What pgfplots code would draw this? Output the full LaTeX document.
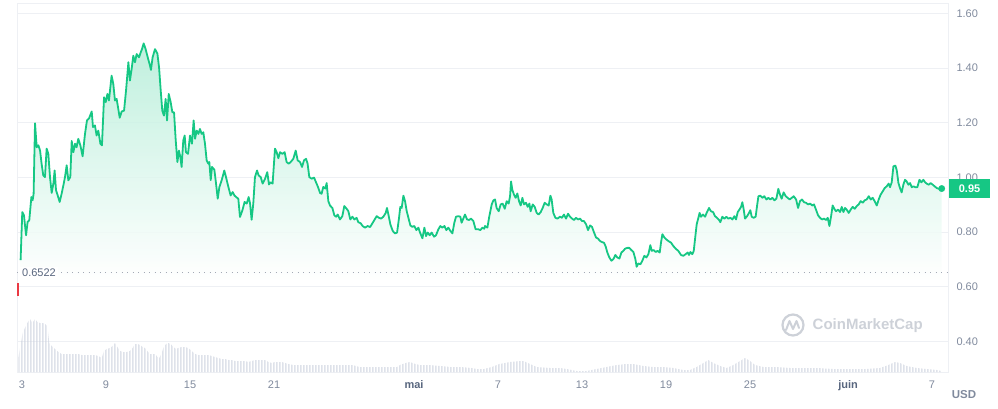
\documentclass[border=0pt]{standalone}
\usepackage{pgfplots}
\pgfplotsset{compat=1.18}
\usepackage{pgfplotstable}
\usetikzlibrary{patterns}
\usepackage{fontspec}
\setmainfont{Liberation Sans}
\definecolor{cmcgreen}{HTML}{16C784}
\definecolor{cmcred}{HTML}{EA3943}
\definecolor{tickgray}{HTML}{808A9D}
\definecolor{darkgray2}{HTML}{58667E}
\definecolor{gridc}{HTML}{EEF0F4}
\definecolor{volc}{HTML}{CDD2DF}
\definecolor{wm}{HTML}{CDD1D8}
\definecolor{dotc}{HTML}{A3A9B5}
\pgfdeclarepatternformonly{vbars}{\pgfpointorigin}{\pgfqpoint{3pt}{1pt}}{\pgfqpoint{3pt}{1pt}}{%
  \pgfpathrectangle{\pgfpointorigin}{\pgfqpoint{2pt}{1pt}}\pgfusepath{fill}}

% price (USD) vs days since 3 April
\pgfplotstableread{
d p
-0.10 0.697
0.02 0.873
0.14 0.861
0.29 0.788
0.40 0.837
0.52 0.843
0.67 0.928
0.76 0.916
0.83 0.940
0.93 1.198
1.05 1.110
1.17 1.117
1.29 1.098
1.40 1.050
1.52 1.007
1.64 1.001
1.76 1.105
1.88 1.086
2.00 1.001
2.12 0.943
2.24 0.977
2.33 1.025
2.43 0.953
2.55 0.934
2.69 0.910
2.83 0.940
2.98 0.977
3.07 1.001
3.19 1.044
3.31 0.989
3.45 1.001
3.55 1.133
3.67 1.092
3.79 1.123
3.90 1.110
4.02 1.141
4.17 1.117
4.33 1.077
4.50 1.159
4.64 1.208
4.79 1.216
4.98 1.241
5.07 1.184
5.21 1.190
5.33 1.153
5.45 1.171
5.60 1.123
5.71 1.117
5.86 1.293
5.98 1.275
6.10 1.305
6.21 1.281
6.40 1.372
6.52 1.342
6.64 1.281
6.76 1.287
6.98 1.218
7.12 1.241
7.29 1.244
7.43 1.317
7.60 1.421
7.71 1.354
7.83 1.396
7.95 1.445
8.07 1.421
8.19 1.451
8.36 1.439
8.48 1.457
8.57 1.469
8.69 1.490
8.83 1.469
8.98 1.439
9.14 1.409
9.21 1.393
9.33 1.439
9.50 1.469
9.67 1.453
9.79 1.402
9.90 1.323
10.02 1.244
10.14 1.226
10.26 1.287
10.36 1.208
10.48 1.305
10.62 1.275
10.74 1.238
10.86 1.238
10.98 1.135
11.10 1.056
11.21 1.098
11.31 1.074
11.40 1.038
11.52 1.135
11.62 1.153
11.71 1.092
11.86 1.086
12.00 1.153
12.14 1.123
12.26 1.208
12.36 1.141
12.48 1.171
12.60 1.159
12.71 1.177
12.83 1.159
12.95 1.165
13.07 1.123
13.19 1.062
13.31 1.050
13.38 1.056
13.48 0.990
13.57 1.038
13.74 1.028
13.86 0.977
13.98 0.922
14.10 0.965
14.26 0.989
14.45 1.025
14.57 1.001
14.74 0.965
14.90 0.934
15.05 0.946
15.17 0.934
15.29 0.928
15.45 0.922
15.57 0.855
15.74 0.879
15.90 0.910
16.05 0.904
16.19 0.928
16.29 0.904
16.40 0.845
16.52 0.904
16.64 1.001
16.79 1.025
16.90 1.007
17.05 1.001
17.19 0.977
17.36 0.995
17.52 1.019
17.64 0.974
17.76 0.982
17.90 0.977
18.07 1.105
18.19 1.092
18.31 1.070
18.43 1.092
18.60 1.086
18.76 1.092
18.90 1.056
19.05 1.050
19.19 1.056
19.38 1.068
19.55 1.098
19.69 1.062
19.86 1.056
20.00 1.038
20.14 1.062
20.29 1.068
20.40 1.050
20.52 1.001
20.69 0.995
20.86 0.999
21.00 0.982
21.14 0.965
21.29 0.943
21.40 0.940
21.52 0.965
21.67 0.959
21.76 0.979
21.88 0.913
22.00 0.897
22.17 0.888
22.31 0.861
22.43 0.856
22.55 0.864
22.71 0.846
22.88 0.858
23.02 0.895
23.19 0.885
23.31 0.876
23.45 0.846
23.60 0.856
23.74 0.846
23.90 0.852
24.02 0.836
24.19 0.832
24.33 0.822
24.50 0.816
24.69 0.822
24.86 0.818
24.98 0.828
25.17 0.844
25.33 0.858
25.50 0.852
25.64 0.849
25.81 0.856
25.98 0.870
26.07 0.888
26.17 0.864
26.31 0.828
26.48 0.804
26.64 0.795
26.79 0.798
26.93 0.852
27.02 0.892
27.12 0.888
27.24 0.933
27.36 0.913
27.48 0.876
27.60 0.852
27.74 0.824
27.88 0.819
28.02 0.822
28.17 0.807
28.31 0.816
28.43 0.798
28.60 0.777
28.74 0.816
28.86 0.785
28.98 0.798
29.12 0.788
29.26 0.798
29.43 0.783
29.57 0.788
29.74 0.810
29.88 0.822
30.02 0.816
30.17 0.822
30.31 0.807
30.45 0.816
30.60 0.804
30.74 0.795
30.88 0.834
31.00 0.856
31.17 0.858
31.31 0.856
31.40 0.834
31.52 0.849
31.64 0.864
31.79 0.846
31.93 0.844
32.07 0.849
32.24 0.840
32.40 0.810
32.60 0.810
32.74 0.807
32.88 0.816
33.02 0.812
33.07 0.822
33.24 0.816
33.38 0.858
33.55 0.901
33.67 0.916
33.79 0.919
33.90 0.888
34.05 0.876
34.19 0.901
34.33 0.904
34.48 0.885
34.62 0.913
34.76 0.904
34.86 0.931
34.93 0.985
35.02 0.955
35.14 0.937
35.26 0.925
35.38 0.941
35.50 0.913
35.62 0.897
35.74 0.925
35.86 0.901
36.00 0.907
36.12 0.892
36.24 0.904
36.33 0.876
36.48 0.901
36.62 0.892
36.76 0.870
36.90 0.864
37.05 0.873
37.19 0.888
37.33 0.907
37.48 0.901
37.62 0.897
37.74 0.933
37.83 0.919
37.95 0.870
38.10 0.852
38.24 0.849
38.43 0.856
38.57 0.852
38.71 0.864
38.86 0.849
39.00 0.867
39.14 0.856
39.29 0.849
39.43 0.844
39.57 0.852
39.71 0.846
39.86 0.849
40.00 0.840
40.14 0.840
40.29 0.828
40.43 0.807
40.57 0.824
40.71 0.819
40.86 0.798
41.00 0.780
41.14 0.776
41.29 0.767
41.43 0.763
41.57 0.761
41.69 0.747
41.81 0.725
41.95 0.707
42.10 0.695
42.24 0.701
42.38 0.716
42.52 0.707
42.67 0.703
42.81 0.725
42.95 0.731
43.07 0.739
43.24 0.742
43.38 0.742
43.52 0.734
43.67 0.727
43.81 0.701
43.90 0.673
44.02 0.685
44.17 0.682
44.31 0.695
44.45 0.713
44.60 0.707
44.74 0.719
44.88 0.752
44.98 0.731
45.12 0.734
45.26 0.727
45.40 0.731
45.55 0.725
45.64 0.761
45.74 0.792
45.88 0.780
46.02 0.773
46.17 0.767
46.36 0.761
46.52 0.749
46.69 0.739
46.88 0.731
47.07 0.716
47.24 0.713
47.40 0.719
47.55 0.725
47.64 0.716
47.74 0.727
47.88 0.719
47.98 0.731
48.07 0.773
48.19 0.828
48.31 0.852
48.40 0.870
48.50 0.856
48.64 0.864
48.79 0.856
48.90 0.870
49.07 0.888
49.21 0.876
49.36 0.873
49.50 0.858
49.64 0.852
49.79 0.844
49.88 0.836
50.02 0.856
50.17 0.849
50.31 0.856
50.45 0.849
50.60 0.852
50.74 0.846
50.88 0.858
51.00 0.846
51.12 0.873
51.24 0.882
51.36 0.892
51.45 0.909
51.55 0.882
51.64 0.849
51.79 0.858
51.93 0.870
52.02 0.880
52.12 0.856
52.26 0.852
52.40 0.856
52.50 0.895
52.60 0.931
52.74 0.933
52.88 0.925
53.02 0.931
53.17 0.919
53.31 0.925
53.45 0.919
53.60 0.925
53.74 0.916
53.88 0.922
54.02 0.958
54.14 0.937
54.26 0.922
54.40 0.945
54.55 0.931
54.69 0.925
54.83 0.919
54.98 0.925
55.12 0.931
55.29 0.919
55.43 0.888
55.57 0.913
55.71 0.919
55.86 0.909
56.00 0.907
56.14 0.901
56.29 0.904
56.43 0.897
56.57 0.901
56.71 0.882
56.86 0.861
57.00 0.852
57.14 0.846
57.29 0.849
57.43 0.844
57.55 0.852
57.67 0.822
57.79 0.858
57.90 0.897
58.02 0.885
58.14 0.876
58.29 0.882
58.43 0.873
58.55 0.892
58.67 0.873
58.79 0.888
58.90 0.882
59.05 0.870
59.19 0.882
59.33 0.892
59.48 0.885
59.62 0.895
59.76 0.901
59.90 0.913
60.05 0.907
60.19 0.916
60.33 0.919
60.48 0.931
60.62 0.919
60.76 0.925
60.90 0.913
61.05 0.897
61.19 0.919
61.33 0.937
61.48 0.949
61.62 0.961
61.76 0.967
61.90 0.977
62.00 0.964
62.12 0.982
62.24 1.040
62.38 1.043
62.48 1.026
62.60 0.979
62.71 0.961
62.83 0.945
62.95 0.973
63.07 0.991
63.19 0.985
63.31 0.973
63.43 0.979
63.55 0.964
63.67 0.967
63.81 0.964
63.95 0.964
64.10 0.991
64.24 0.982
64.38 0.991
64.50 0.982
64.62 0.977
64.76 0.973
64.90 0.979
65.05 0.973
65.19 0.967
65.33 0.961
65.48 0.958
65.69 0.959
}\price

% relative trading volume (bar height)
\pgfplotstableread{
d v
-0.26 14
-0.14 24
0.05 39
0.21 44
0.38 49
0.57 53
0.74 49
0.93 53
1.10 50
1.29 49
1.48 49
1.64 48
1.81 46
1.95 29
2.12 26
2.36 23
2.60 20
2.83 18
3.07 18
3.31 18
3.55 18
3.79 18
4.02 18
4.26 17
4.50 17
4.74 17
4.98 17
5.21 17
5.45 16
5.69 14
5.86 21
6.05 23
6.29 24
6.48 26
6.64 29
6.81 25
7.00 21
7.24 20
7.48 20
7.71 21
7.90 24
8.07 28
8.26 28
8.43 27
8.62 25
8.79 24
8.95 21
9.14 18
9.33 18
9.52 18
9.67 15
9.81 14
9.98 19
10.10 24
10.29 28
10.45 29
10.62 28
10.81 25
11.00 23
11.17 24
11.41 25
11.64 25
11.88 24
12.12 21
12.36 18
12.60 17
12.83 17
13.07 17
13.31 17
13.55 16
13.79 15
14.02 14
14.26 13
14.50 13
14.74 12
14.98 12
15.21 11
15.45 11
15.69 11
15.93 11
16.17 10
16.41 11
16.64 12
16.88 12
17.12 12
17.36 12
17.60 10
17.83 9
18.07 10
18.31 10
18.55 10
18.79 9
19.02 8
19.38 7
20.80 7
21.05 7
23.60 7
24.10 5
26.80 5
27.00 7
27.40 9
27.70 10
28.10 8
28.40 7
29.10 7
29.90 6
30.60 5
31.30 5
32.10 4
32.50 3
33.00 3
33.55 5
34.10 8
34.86 10
35.57 11
35.81 11
36.29 8
36.76 5
37.71 4
38.43 4
38.90 3
39.62 1
40.33 1
41.05 3
41.76 5
42.48 7
43.19 8
43.67 8
44.38 6
45.10 5
45.81 5
46.52 4
47.24 2
47.71 2
48.19 5
48.67 9
49.02 12
49.38 9
49.86 6
50.33 4
50.81 7
51.29 11
51.64 14
52.00 11
52.36 7
52.95 5
53.90 5
54.86 4
55.81 4
56.76 4
57.95 3
59.14 3
60.33 3
61.29 4
61.88 7
62.36 10
62.71 9
63.19 6
63.90 4
64.62 3
65.33 2
65.69 1
}\voltable

\begin{document}
\begin{tikzpicture}
\useasboundingbox (0pt,0pt) rectangle (998pt,408pt);
% price axis
\begin{axis}[
  at={(17pt,36pt)}, anchor=south west,
  width=931pt, height=369pt, scale only axis,
  xmin=-0.357, xmax=66.14, ymin=0.288, ymax=1.6377,
  axis line style={draw=gridc, line width=0.8pt},
  ytick={0.4,0.6,0.8,1.0,1.2,1.4,1.6},
  yticklabels={0.40,0.60,0.80,1.00,1.20,1.40,1.60},
  yticklabel pos=right,
  ymajorgrids, grid style={draw=gridc, line width=0.8pt},
  xtick={0,6,12,18,28,34,40,46,52,59,65},
  xticklabels={3,9,15,21,{\bfseries\color{darkgray2}mai},7,13,19,25,{\bfseries\color{darkgray2}juin},7},
  major tick length=0pt,
  tick label style={font=\fontsize{11}{13}\selectfont, text=tickgray},
  yticklabel style={anchor=west, xshift=5pt},
  xticklabel style={anchor=north, yshift=-5pt},
]
\addplot[draw=none, top color=cmcgreen!32!white, bottom color=white, fill opacity=0.85] table[x=d,y=p] {\price} -- (axis cs:65.69,0.62) -- (axis cs:-0.10,0.62) -- cycle;
\addplot[dotc, line width=0.9pt, dash pattern=on 0.9pt off 4.6pt] coordinates {(-0.357,0.6522) (66.14,0.6522)};
\addplot[cmcgreen, line width=1.8pt, line join=round] table[x=d,y=p] {\price};
\addplot[only marks, mark=*, mark size=3.2pt, cmcgreen] coordinates {(65.69,0.959)};
\addplot[cmcred, line width=2.6pt] coordinates {(-0.29,0.566) (-0.29,0.614)};
\end{axis}
% volume axis
\begin{axis}[
  at={(17pt,36pt)}, anchor=south west,
  width=931pt, height=369pt, scale only axis,
  xmin=-0.357, xmax=66.14, ymin=0, ymax=369,
  axis lines=none, xtick=\empty, ytick=\empty,
]
\addplot[pattern=vbars, pattern color=volc, draw=none] table[x=d,y=v] {\voltable} \closedcycle;
\end{axis}
% labels
\node[fill=white, inner sep=2pt, anchor=west, text=darkgray2, font=\fontsize{11}{13}\selectfont] at (20pt,135.4pt) {0.6522};
\node[fill=cmcgreen, text=white, font=\bfseries\fontsize{11}{13}\selectfont, minimum width=41.3pt, minimum height=18.7pt, inner sep=0pt, anchor=west] at (948.7pt,219.7pt) {0.95};
\node[text=tickgray, font=\bfseries\fontsize{11.5}{13}\selectfont] at (964pt,13pt) {USD};
% watermark
\draw[wm, line width=2.2pt] (793pt,83pt) circle (10.5pt);
\draw[wm, line width=2pt, line join=round, line cap=round] (786pt,78pt) -- (789.5pt,87pt) -- (793pt,79pt) -- (796.5pt,87pt) -- (799pt,80pt);
\node[text=wm, font=\bfseries\fontsize{15}{17}\selectfont, anchor=west, inner sep=0pt] at (812.5pt,82.5pt) {CoinMarketCap};
\end{tikzpicture}
\end{document}
